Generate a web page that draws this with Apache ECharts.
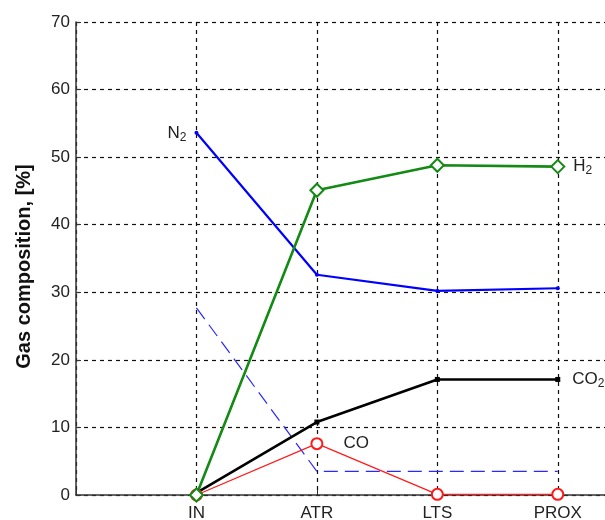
<!DOCTYPE html>
<html>
<head>
<meta charset="utf-8">
<script src="https://cdn.jsdelivr.net/npm/echarts@6/dist/echarts.min.js"></script>
<style>
  html, body { margin: 0; padding: 0; background: #fff; }
  #chart { width: 605px; height: 520px; }
</style>
</head>
<body>
<div id="chart"></div>
<script>
// stages along the process
const stages = ['IN', 'ATR', 'LTS', 'PROX'];

// gas composition, %
const n2 = [53.6, 32.6, 30.2, 30.6];
const h2 = [0, 45.1, 48.8, 48.6];
const co2 = [0.3, 10.8, 17.1, 17.1];
const co = [0, 7.6, 0.1, 0.1];
const ch4 = [27.7, 3.5, 3.5, 3.5];

const yTicks = [0, 10, 20, 30, 40, 50, 60, 70];

const font = 'Liberation Sans, Arial, Helvetica, sans-serif';
const rich = {
  a: { fontSize: 17, color: '#222', fontFamily: font },
  s: { fontSize: 12, color: '#222', fontFamily: font, padding: [9, 0, 0, 0] }
};

// make [x, y] pairs; optional label on one point
const toData = (vals, labelAt, label) =>
  vals.map((v, i) => {
    const item = { value: [i + 1, v] };
    if (i === labelAt) {
      item.label = Object.assign({ show: true, rich: rich }, label);
    }
    return item;
  });

const chart = echarts.init(document.getElementById('chart'));

const option = {
  animation: false,
  backgroundColor: '#fff',
  grid: {
    left: 76,
    top: 22,
    width: 542,
    height: 473,
    outerBoundsMode: 'none'
  },
  xAxis: {
    type: 'value',
    min: 0,
    max: 4.5,
    interval: 1,
    axisLine: { lineStyle: { color: '#333', width: 1.5 } },
    axisTick: { inside: true, length: 5, lineStyle: { color: '#333' } },
    axisLabel: {
      color: '#222',
      fontSize: 17,
      fontFamily: font,
      margin: 10,
      formatter: v => stages[v - 1] || ''
    },
    splitLine: {
      show: true,
      lineStyle: { color: '#111', type: [4, 4], width: 1.2 }
    }
  },
  yAxis: {
    type: 'value',
    min: yTicks[0],
    max: yTicks[yTicks.length - 1],
    interval: 10,
    name: 'Gas composition, [%]',
    nameLocation: 'middle',
    nameGap: 42,
    nameTextStyle: { fontSize: 20, fontWeight: 'bold', color: '#111', fontFamily: font, padding: [0, 16, 0, 0] },
    axisLine: { show: true, lineStyle: { color: '#333', width: 1.5 } },
    axisTick: { show: true, inside: true, length: 5, lineStyle: { color: '#333' } },
    axisLabel: { color: '#222', fontSize: 17, fontFamily: font, margin: 6 },
    splitLine: {
      show: true,
      lineStyle: { color: '#111', type: [4, 4], width: 1.2 }
    }
  },
  series: [
    {
      name: 'CH4',
      type: 'line',
      symbol: 'none',
      lineStyle: { color: '#2828ff', width: 1.2, type: [14, 7] },
      data: toData(ch4, 0, { position: 'left', distance: 8, formatter: '{a|CH}{s|4}' })
    },
    {
      name: 'N2',
      type: 'line',
      symbol: 'circle',
      symbolSize: 4,
      itemStyle: { color: '#0000ff' },
      lineStyle: { color: '#0000ff', width: 2.2 },
      data: toData(n2, 0, { position: 'left', distance: 8, formatter: '{a|N}{s|2}' })
    },
    {
      name: 'CO',
      type: 'line',
      symbol: 'emptyCircle',
      symbolSize: 11,
      itemStyle: { color: '#ff1a1a', borderWidth: 1.2 },
      lineStyle: { color: '#ff1a1a', width: 1.2 },
      data: toData(co, 1, { position: 'right', distance: 20, formatter: '{a|CO}' })
    },
    {
      name: 'CO2',
      type: 'line',
      symbol: 'rect',
      symbolSize: 5,
      itemStyle: { color: '#000' },
      lineStyle: { color: '#000', width: 2.6 },
      data: toData(co2, 3, { position: 'right', distance: 12, formatter: '{a|CO}{s|2}' })
    },
    {
      name: 'H2',
      type: 'line',
      symbol: 'emptyDiamond',
      symbolSize: 13,
      itemStyle: { color: '#138a13', borderWidth: 2.2 },
      lineStyle: { color: '#138a13', width: 2.6 },
      data: toData(h2, 3, { position: 'right', distance: 8, formatter: '{a|H}{s|2}' })
    }
  ]
};

chart.setOption(option);
</script>
</body>
</html>
